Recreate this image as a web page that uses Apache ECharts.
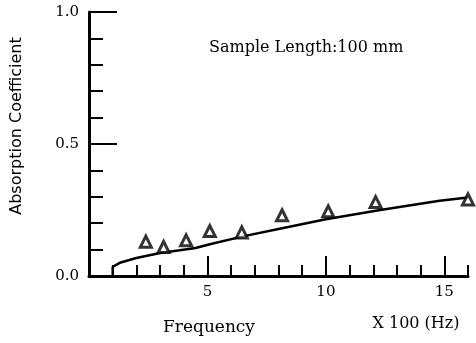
<!DOCTYPE html>
<html>
<head>
<meta charset="utf-8">
<script src="https://cdn.jsdelivr.net/npm/echarts@6/dist/echarts.min.js"></script>
<style>
  html, body { margin: 0; padding: 0; background: #fff; }
  #chart { width: 476px; height: 343px; }
</style>
</head>
<body>
<div id="chart"></div>
<script>
// measured points (triangles), frequency in x100 Hz
const pointFreq = [2.4, 3.15, 4.1, 5.1, 6.45, 8.15, 10.1, 12.1, 16]
const pointAbs = [0.13, 0.11, 0.135, 0.17, 0.165, 0.23, 0.245, 0.28, 0.29]
// calculated curve
const curveFreq = [1, 1, 1.3, 2, 3, 4.5, 5.1, 6.5, 8.1, 10, 12.3, 14.8, 16]
const curveAbs = [0, 0.035, 0.05, 0.068, 0.087, 0.106, 0.12, 0.15, 0.18, 0.215, 0.25, 0.285, 0.297]
// axis ticks / labels
const xMajorTicks = [5, 10, 15]
const xMinorTicks = [1, 2, 3, 4, 6, 7, 8, 9, 11, 12, 13, 14, 16]

const serif = 'DejaVu Serif'
const chart = echarts.init(document.getElementById('chart'))

const points = pointFreq.map((f, i) => [f, pointAbs[i]])
const curve = curveFreq.map((f, i) => [f, curveAbs[i]])

chart.setOption({
  backgroundColor: '#fff',
  animation: false,
  grid: { left: 89, right: 8, top: 12, bottom: 67 },
  xAxis: [{
    type: 'value',
    min: 0,
    max: 16,
    splitLine: { show: false },
    axisLine: { lineStyle: { color: '#000', width: 3 } },
    axisTick: { inside: true, length: 20, customValues: xMajorTicks, lineStyle: { color: '#000', width: 2 } },
    axisLabel: { customValues: xMajorTicks, color: '#000', fontFamily: serif, fontSize: 15, margin: 9 }
  }, {
    type: 'value',
    min: 0,
    max: 16,
    position: 'bottom',
    splitLine: { show: false },
    axisLine: { show: false },
    axisTick: { inside: true, length: 11, customValues: xMinorTicks, lineStyle: { color: '#000', width: 2 } },
    axisLabel: { show: false }
  }],
  yAxis: {
    type: 'value',
    min: 0,
    max: 1,
    interval: 0.5,
    splitLine: { show: false },
    axisLine: { lineStyle: { color: '#000', width: 3 } },
    axisTick: { inside: true, length: 28, lineStyle: { color: '#000', width: 2 } },
    minorTick: { show: true, splitNumber: 5, length: 14, lineStyle: { color: '#000', width: 2 } },
    axisLabel: {
      color: '#000', fontFamily: serif, fontSize: 15, margin: 10,
      formatter: v => v.toFixed(1)
    }
  },
  graphic: [
    {
      type: 'text', left: 209, top: 40,
      style: { text: 'Sample Length:100 mm', font: '16px "DejaVu Serif"', fill: '#000' }
    },
    {
      type: 'text', x: 17, y: 126, rotation: Math.PI / 2,
      style: { text: 'Absorption Coefficient', font: '16px "DejaVu Sans"', fill: '#000', align: 'center', verticalAlign: 'middle' }
    },
    {
      type: 'text', x: 209, y: 328,
      style: { text: 'Frequency', font: '17px "DejaVu Serif"', fill: '#000', align: 'center', verticalAlign: 'middle' }
    },
    {
      type: 'text', x: 416, y: 324,
      style: { text: 'X 100 (Hz)', font: '16px "DejaVu Serif"', fill: '#000', align: 'center', verticalAlign: 'middle' }
    }
  ],
  series: [
    {
      type: 'line',
      data: curve,
      showSymbol: false,
      lineStyle: { color: '#000', width: 2.5 },
      z: 2
    },
    {
      type: 'scatter',
      data: points,
      symbol: 'triangle',
      symbolSize: 11,
      itemStyle: { color: '#fff', borderColor: '#000', borderWidth: 3 },
      z: 3
    }
  ]
})
</script>
</body>
</html>
